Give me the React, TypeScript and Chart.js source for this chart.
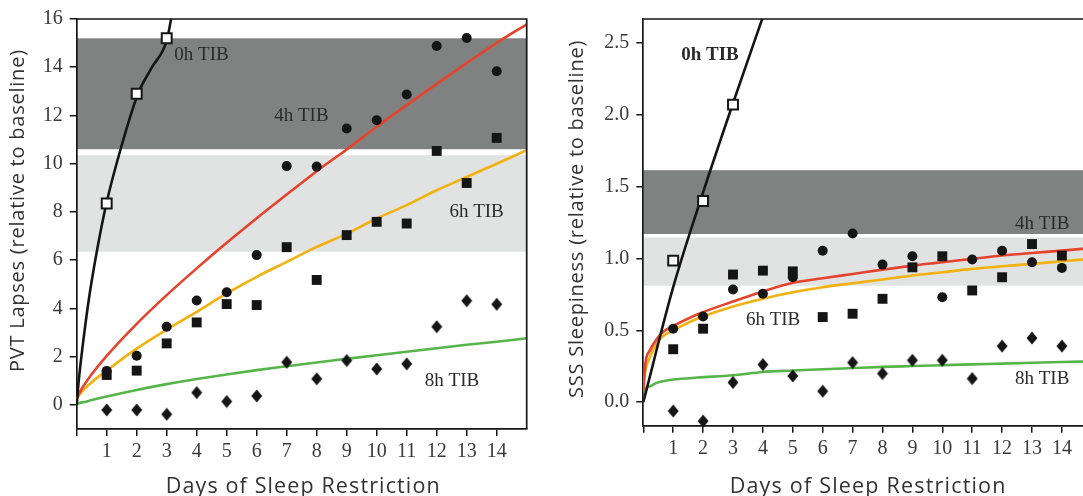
import React, { useEffect, useRef } from "react";
import { Chart, registerables } from "chart.js";

Chart.register(...registerables);

// ---------- shared ----------
const DAYS = [1, 2, 3, 4, 5, 6, 7, 8, 9, 10, 11, 12, 13, 14];
const DAYS_0H = [1, 2, 3];
const X_TICKS = [0, 1, 2, 3, 4, 5, 6, 7, 8, 9, 10, 11, 12, 13, 14];
const SERIES_LABELS = ["0h TIB", "4h TIB", "6h TIB", "8h TIB"];
const X_TITLE = "Days of Sleep Restriction";

// ---------- left panel: PVT lapses ----------
const PVT_TICKS = [0, 2, 4, 6, 8, 10, 12, 14, 16];
const PVT_0H = [8.35, 12.9, 15.2];
const PVT_4H = [1.41, 2.04, 3.24, 4.33, 4.67, 6.21, 9.9, 9.88, 11.46, 11.8, 12.87, 14.88, 15.21, 13.83];
const PVT_6H = [1.24, 1.42, 2.55, 3.42, 4.18, 4.14, 6.54, 5.18, 7.04, 7.59, 7.52, 10.53, 9.2, 11.07];
const PVT_8H = [-0.21, -0.21, -0.39, 0.51, 0.14, 0.37, 1.77, 1.08, 1.84, 1.49, 1.7, 3.24, 4.32, 4.17];

const PVT_FIT_0H_X = [0, 0.065, 0.19, 0.41, 0.69, 0.99, 1.47, 2.04, 2.5, 3.0, 3.17, 3.25];
const PVT_FIT_0H = [0, 0.97, 2.35, 4.42, 6.49, 8.35, 10.63, 12.89, 13.98, 15.1, 16.15, 16.6];
const PVT_FIT_X = [0, 0.1, 0.25, 0.5, 1, 2, 3, 4, 5, 6, 7, 8, 9, 10, 11, 12, 13, 14, 15];
const PVT_FIT_4H = [0.24, 0.52, 0.83, 1.27, 2.03, 3.36, 4.55, 5.66, 6.72, 7.74, 8.72, 9.69, 10.59, 11.53, 12.43, 13.31, 14.17, 15.01, 15.78];
const PVT_FIT_6H = [0.24, 0.44, 0.65, 0.94, 1.42, 2.33, 3.12, 3.86, 4.62, 5.31, 5.93, 6.55, 7.1, 7.73, 8.28, 8.9, 9.45, 10.0, 10.56];
const PVT_FIT_8H = [0.04, 0.08, 0.12, 0.2, 0.35, 0.62, 0.86, 1.07, 1.26, 1.44, 1.6, 1.76, 1.91, 2.06, 2.2, 2.35, 2.49, 2.62, 2.76];

const PVT_BAND_DARK = [10.6, 15.2];
const PVT_BAND_LIGHT = [6.35, 10.35];

// ---------- right panel: SSS sleepiness ----------
const SSS_TICKS = [0, 0.5, 1.0, 1.5, 2.0, 2.5];
const SSS_0H = [0.985, 1.4, 2.07];
const SSS_4H = [0.511, 0.596, 0.784, 0.754, 0.869, 1.054, 1.174, 0.957, 1.015, 0.73, 0.992, 1.054, 0.973, 0.934];
const SSS_6H = [0.368, 0.511, 0.888, 0.915, 0.91, 0.592, 0.615, 0.719, 0.938, 1.015, 0.777, 0.869, 1.1, 1.02];
const SSS_8H = [-0.062, -0.132, 0.137, 0.261, 0.182, 0.076, 0.275, 0.199, 0.291, 0.291, 0.164, 0.39, 0.446, 0.39];

const SSS_FIT_0H_X = [0, 1, 2, 3, 4.1];
const SSS_FIT_0H = [0, 0.8, 1.46, 2.08, 2.74];
const SSS_FIT_X = [0, 0.07, 0.22, 0.45, 0.67, 1, 1.8, 3, 4, 5, 6, 7, 8, 9, 10, 11, 12, 13, 14, 15];
const SSS_FIT_4H = [0.08, 0.27, 0.36, 0.44, 0.49, 0.53, 0.61, 0.7, 0.77, 0.83, 0.862, 0.892, 0.922, 0.95, 0.973, 0.997, 1.02, 1.038, 1.054, 1.073];
const SSS_FIT_6H = [0.08, 0.22, 0.31, 0.41, 0.46, 0.5, 0.58, 0.665, 0.72, 0.765, 0.8, 0.827, 0.853, 0.881, 0.904, 0.927, 0.945, 0.962, 0.98, 0.997];
const SSS_FIT_8H = [0.07, 0.095, 0.11, 0.134, 0.146, 0.157, 0.171, 0.187, 0.21, 0.22, 0.229, 0.237, 0.245, 0.251, 0.257, 0.263, 0.268, 0.274, 0.279, 0.284];

const SSS_BAND_DARK = [1.17, 1.614];
const SSS_BAND_LIGHT = [0.81, 1.146];

// ---------- styling ----------
const RED = "#e4432d";
const ORANGE = "#f3b10f";
const GREEN = "#55b548";
const INK = "#151515";
const DARK_BAND = "#808281";
const LIGHT_BAND = "#e1e2e2";
const TICK_FONT = { family: "'Liberation Serif', serif", size: 20 };
const TITLE_FAMILY = "'Open Sans', sans-serif";

function zip(xs: number[], ys: number[]) {
  return xs.map((x, i) => ({ x, y: ys[i] }));
}

function makeDiamond(): HTMLCanvasElement {
  const c = document.createElement("canvas");
  c.width = 12;
  c.height = 14;
  const g = c.getContext("2d")!;
  g.fillStyle = INK;
  g.beginPath();
  g.moveTo(6, 0.5);
  g.lineTo(11.5, 7);
  g.lineTo(6, 13.5);
  g.lineTo(0.5, 7);
  g.closePath();
  g.fill();
  return c;
}

function lineDs(xs: number[], ys: number[], color: string) {
  return {
    data: zip(xs, ys),
    showLine: true,
    borderColor: color,
    borderWidth: 2.6,
    pointRadius: 0,
    cubicInterpolationMode: "monotone",
    clip: 0,
    order: 5,
  };
}

function pointDs(xs: number[], ys: number[], style: any, radius: number, bg: string, border: string, bw: number, order: number) {
  return {
    data: zip(xs, ys),
    showLine: false,
    pointStyle: style,
    pointRadius: radius,
    pointBackgroundColor: bg,
    pointBorderColor: border,
    pointBorderWidth: bw,
    order,
    clip: false,
  };
}

function spacedText(ctx: CanvasRenderingContext2D, text: string, x: number, y: number, target: number) {
  (ctx as any).letterSpacing = "0px";
  const w = ctx.measureText(text).width;
  const ls = Math.max(0, (target - w) / text.length);
  (ctx as any).letterSpacing = `${ls.toFixed(2)}px`;
  ctx.fillText(text, x + ls / 2, y);
  (ctx as any).letterSpacing = "0px";
}

const decorPlugin = {
  id: "decor",
  beforeDraw(chart: any, _args: any, opts: any) {
    const { ctx, chartArea: a, scales } = chart;
    const y = scales.y;
    ctx.save();
    for (const b of opts.bands) {
      const top = y.getPixelForValue(b.range[1]);
      const bot = y.getPixelForValue(b.range[0]);
      ctx.fillStyle = b.color;
      ctx.fillRect(a.left, top, a.right - a.left, bot - top);
    }
    ctx.restore();
  },
  afterDraw(chart: any, _args: any, opts: any) {
    const { ctx, chartArea: a, scales } = chart;
    const x = scales.x;
    const y = scales.y;
    ctx.save();
    // frame top & right
    ctx.strokeStyle = INK;
    ctx.lineWidth = 1.7;
    ctx.beginPath();
    ctx.moveTo(a.left, a.top);
    ctx.lineTo(a.right, a.top);
    ctx.lineTo(a.right, a.bottom);
    ctx.stroke();
    // series labels
    ctx.textAlign = "center";
    ctx.textBaseline = "middle";
    ctx.fillStyle = "#2b2b2b";
    opts.labels.forEach((l: any) => {
      ctx.font = `${l.bold ? "bold " : ""}19px 'Liberation Serif', serif`;
      ctx.fillText(l.text, x.getPixelForValue(l.x), y.getPixelForValue(l.y));
    });
    // x title
    ctx.fillStyle = "#333";
    ctx.textBaseline = "alphabetic";
    ctx.font = `21.5px ${TITLE_FAMILY}`;
    spacedText(ctx, X_TITLE, (a.left + a.right) / 2 + opts.xTitle.dx, opts.xTitle.baseline, opts.xTitle.width);
    // y title
    ctx.translate(opts.yTitle.baseline, (a.top + a.bottom) / 2 + opts.yTitle.dy);
    ctx.rotate(-Math.PI / 2);
    ctx.font = `20px ${TITLE_FAMILY}`;
    spacedText(ctx, opts.yTitle.text, 0, 0, opts.yTitle.width);
    ctx.restore();
  },
};

function buildConfig(p: any) {
  const diamond = makeDiamond();
  return {
    type: "scatter",
    data: {
      datasets: [
        lineDs(p.fit0x, p.fit0, INK),
        lineDs(p.fitX, p.fit4, RED),
        lineDs(p.fitX, p.fit6, ORANGE),
        lineDs(p.fitX, p.fit8, GREEN),
        pointDs(DAYS_0H, p.v0, "rect", 7, "#ffffff", INK, 2, 0),
        pointDs(DAYS, p.v4, "circle", 5, INK, INK, 0, 2),
        pointDs(DAYS, p.v6, "rect", 7, INK, INK, 0, 1),
        pointDs(DAYS, p.v8, diamond, 6, INK, INK, 0, 1),
      ],
    },
    options: {
      responsive: false,
      animation: false,
      devicePixelRatio: 1,
      events: [],
      layout: { padding: { left: 0, right: p.padRight, top: p.padTop, bottom: 0 } },
      plugins: {
        legend: { display: false },
        tooltip: { enabled: false },
        decor: {
          bands: [
            { range: p.bandDark, color: DARK_BAND },
            { range: p.bandLight, color: LIGHT_BAND },
          ],
          labels: p.labels,
          yTitle: p.yTitle,
          xTitle: p.xTitle,
        },
      },
      scales: {
        x: {
          type: "linear",
          min: 0,
          max: 15,
          afterBuildTicks: (s: any) => {
            s.ticks = X_TICKS.map((v) => ({ value: v }));
          },
          afterFit: (s: any) => {
            s.height = p.xHeight;
          },
          ticks: {
            autoSkip: false,
            maxRotation: 0,
            padding: 4,
            color: "#3a3a3a",
            font: TICK_FONT,
            callback: (v: number) => (v === 0 ? "" : String(v)),
          },
          grid: { drawOnChartArea: false, drawTicks: true, tickLength: 7, color: INK, lineWidth: 1.5 },
          border: { display: true, color: INK, width: 1.7 },
          title: { display: false },
        },
        y: {
          type: "linear",
          min: p.yMin,
          max: p.yMax,
          afterBuildTicks: (s: any) => {
            s.ticks = p.yTicks.map((v: number) => ({ value: v }));
          },
          afterFit: (s: any) => {
            s.width = p.yWidth;
          },
          ticks: {
            autoSkip: false,
            padding: p.yTickPad,
            color: "#3a3a3a",
            font: TICK_FONT,
            callback: p.yFmt,
          },
          grid: { drawOnChartArea: false, drawTicks: true, tickLength: 7, color: INK, lineWidth: 1.5 },
          border: { display: true, color: INK, width: 1.7 },
        },
      },
    },
    plugins: [decorPlugin],
  };
}

const leftParams = {
  v0: PVT_0H, v4: PVT_4H, v6: PVT_6H, v8: PVT_8H,
  fit0x: PVT_FIT_0H_X, fit0: PVT_FIT_0H,
  fitX: PVT_FIT_X, fit4: PVT_FIT_4H, fit6: PVT_FIT_6H, fit8: PVT_FIT_8H,
  bandDark: PVT_BAND_DARK, bandLight: PVT_BAND_LIGHT,
  yMin: -1, yMax: 16, yTicks: PVT_TICKS,
  yFmt: (v: number) => String(v),
  yWidth: 76.7, yTickPad: 7, padRight: 13.3, padTop: 19, xHeight: 67,
  labels: [
    { text: SERIES_LABELS[0], x: 4.16, y: 14.49 },
    { text: SERIES_LABELS[1], x: 7.49, y: 11.97 },
    { text: SERIES_LABELS[2], x: 13.33, y: 7.99 },
    { text: SERIES_LABELS[3], x: 12.51, y: 0.99 },
  ],
  xTitle: { dx: 1, baseline: 492.7, width: 275 },
  yTitle: { text: "PVT Lapses (relative to baseline)", baseline: 23.5, dy: -13, width: 323 },
};

const rightParams = {
  v0: SSS_0H, v4: SSS_4H, v6: SSS_6H, v8: SSS_8H,
  fit0x: SSS_FIT_0H_X, fit0: SSS_FIT_0H,
  fitX: SSS_FIT_X, fit4: SSS_FIT_4H, fit6: SSS_FIT_6H, fit8: SSS_FIT_8H,
  bandDark: SSS_BAND_DARK, bandLight: SSS_BAND_LIGHT,
  yMin: -0.164, yMax: 2.666, yTicks: SSS_TICKS,
  yFmt: (v: number) => v.toFixed(1),
  yWidth: 100.3, yTickPad: 7, padRight: 11.2, padTop: 17.7, xHeight: 70.3,
  labels: [
    { text: SERIES_LABELS[0], x: 2.23, y: 2.418, bold: true },
    { text: SERIES_LABELS[1], x: 13.34, y: 1.239 },
    { text: SERIES_LABELS[2], x: 4.34, y: 0.574 },
    { text: SERIES_LABELS[3], x: 13.34, y: 0.164 },
  ],
  xTitle: { dx: 0, baseline: 492.7, width: 277 },
  yTitle: { text: "SSS Sleepiness (relative to baseline)", baseline: 40.2, dy: -3, width: 358 },
};

function Panel({ params, left, width }: { params: any; left: number; width: number }) {
  const ref = useRef<HTMLCanvasElement>(null);
  useEffect(() => {
    const chart = new Chart(ref.current!, buildConfig(params) as any);
    return () => chart.destroy();
  }, [params]);
  return (
    <canvas
      ref={ref}
      width={width}
      height={496}
      style={{ position: "absolute", left, top: 0, width, height: 496 }}
    />
  );
}

export default function App() {
  return (
    <div
      style={{
        position: "absolute",
        left: 0,
        top: 0,
        width: 1083,
        height: 496,
        overflow: "hidden",
        background: "#ffffff",
      }}
    >
      <Panel params={leftParams} left={0} width={540} />
      <Panel params={rightParams} left={543} width={560} />
    </div>
  );
}
